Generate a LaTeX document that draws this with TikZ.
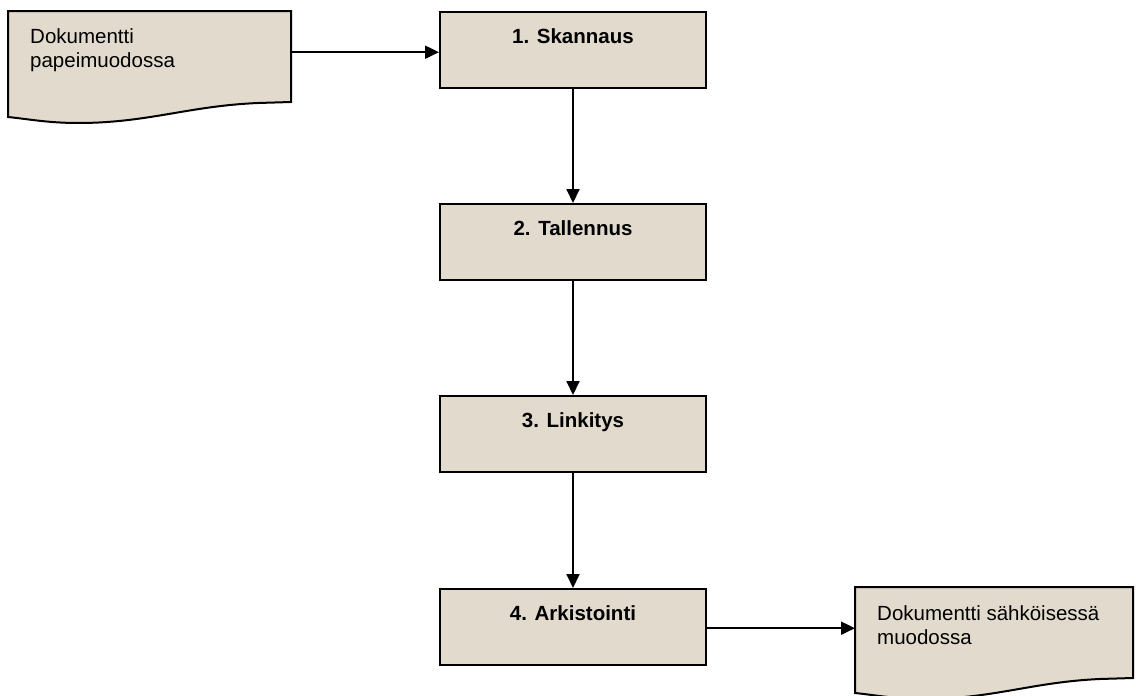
\documentclass[tikz,border=0pt]{standalone}
\usepackage{fontspec}
\setmainfont{Liberation Sans}
\usetikzlibrary{arrows.meta}
\definecolor{paper}{RGB}{226,219,205}
\tikzset{
  stepbox/.style={draw=black, fill=paper, line width=2pt, minimum width=266pt,
    inner ysep=0pt, text height=31pt, text depth=45pt,
    font=\fontsize{20.5pt}{24pt}\selectfont\bfseries, anchor=north},
  docarea/.style={inner sep=0pt, anchor=north west},
  docshape/.style={draw=black, fill=paper, line width=2pt, line join=miter},
  doctext/.style={anchor=base west, inner sep=0pt, align=left,
    font=\fontsize{20.5pt}{24pt}\selectfont},
  flow/.style={draw=black, line width=2pt, -{Triangle[length=14pt,width=13pt]}}
}
\begin{document}
\begin{tikzpicture}[x=1pt, y=-1pt]
\useasboundingbox (0,0) rectangle (1136,696);
% document shapes (areas)
\node[docarea, minimum width=283pt, minimum height=82pt] (d1) at (8,11) {};
\node[docarea, minimum width=278pt, minimum height=82pt] (d2) at (855,587) {};
\path[docshape, shift={(d1.north west)}]
  (0,0) -- (283,0) -- (283,91) -- (250,92)
  .. controls (180,95) and (140,112) .. (70,112)
  .. controls (40,112) and (20,108) .. (0,106) -- cycle;
\path[docshape, shift={(d2.north west)}]
  (0,0) -- (278,0) -- (278,91) -- (245,92)
  .. controls (177,95) and (138,112) .. (69,112)
  .. controls (39,112) and (20,108) .. (0,106) -- cycle;
\node[doctext] (t1) at (30,67) {Dokumentti\\papeimuodossa};
\node[doctext] (t2) at (877,644) {Dokumentti sähköisessä\\muodossa};
% process boxes
\node[stepbox] (b1) at (573,11) {1. Skannaus};
\node[stepbox] (b2) at (573,203) {2. Tallennus};
\node[stepbox] (b3) at (573,395) {3. Linkitys};
\node[stepbox] (b4) at (573,588) {4. Arkistointi};
% connectors
\draw[flow] (d1.east) -- (d1.east -| b1.west);
\draw[flow] (b1.south) -- (b2.north);
\draw[flow] (b2.south) -- (b3.north);
\draw[flow] (b3.south) -- (b4.north);
\draw[flow] (b4.east |- d2.west) -- (d2.west);
\end{tikzpicture}
\end{document}
